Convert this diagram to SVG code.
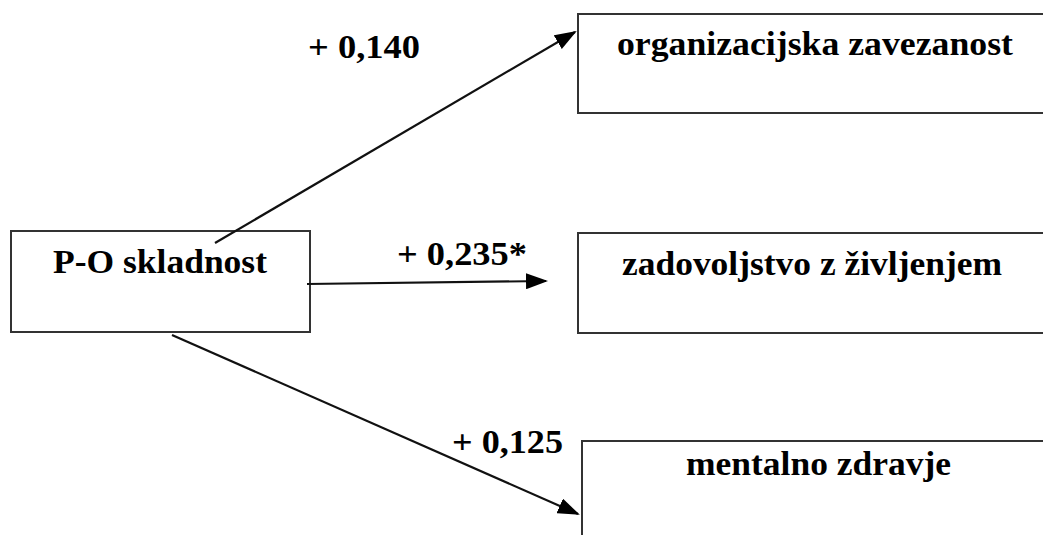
<svg xmlns="http://www.w3.org/2000/svg" width="1043" height="535" viewBox="0 0 1043 535">
<style>
.box{fill:#fff;stroke:#333;stroke-width:2}
.t{font-family:"Liberation Serif","Times New Roman",serif;font-weight:bold;font-size:34px;fill:#000}
.c{stroke:#111;stroke-width:2.2;fill:none}
</style>
<defs>
<marker id="ah" markerWidth="22" markerHeight="16" refX="20" refY="8" orient="auto" markerUnits="userSpaceOnUse">
<path d="M0,0 L22,8 L0,16 Z" fill="#000"/>
</marker>
</defs>
<rect width="1043" height="535" fill="#fff"/>
<g id="node-po">
<rect class="box" x="11" y="231" width="299" height="101"/>
<text class="t" x="53" y="273" textLength="214" lengthAdjust="spacingAndGlyphs">P-O skladnost</text>
</g>
<g id="node-oz">
<rect class="box" x="578" y="14" width="480" height="99"/>
<text class="t" x="617" y="55" textLength="396" lengthAdjust="spacingAndGlyphs">organizacijska zavezanost</text>
</g>
<g id="node-zz">
<rect class="box" x="578" y="233" width="480" height="100"/>
<text class="t" x="622" y="275" textLength="380" lengthAdjust="spacingAndGlyphs">zadovoljstvo z življenjem</text>
</g>
<g id="node-mz">
<rect class="box" x="582" y="441" width="480" height="110"/>
<text class="t" x="686" y="475" textLength="265" lengthAdjust="spacingAndGlyphs">mentalno zdravje</text>
</g>
<g id="connectors">
<line class="c" x1="215" y1="243" x2="575" y2="32" marker-end="url(#ah)"/>
<line class="c" x1="307" y1="284" x2="546" y2="281" marker-end="url(#ah)"/>
<line class="c" x1="172" y1="335" x2="578" y2="514" marker-end="url(#ah)"/>
</g>
<g id="labels">
<text class="t" x="308" y="58" textLength="112" lengthAdjust="spacingAndGlyphs">+ 0,140</text>
<text class="t" x="397" y="265" textLength="130" lengthAdjust="spacingAndGlyphs">+ 0,235*</text>
<text class="t" x="452" y="453" textLength="111" lengthAdjust="spacingAndGlyphs">+ 0,125</text>
</g>
</svg>
